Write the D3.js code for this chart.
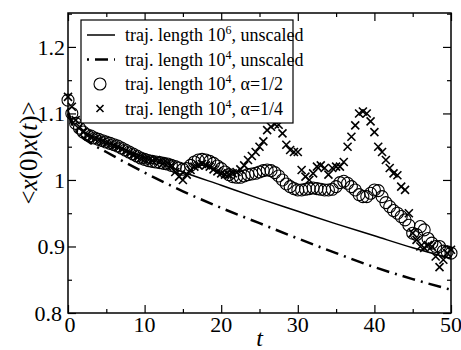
<!DOCTYPE html>
<html>
<head>
<meta charset="utf-8">
<script src="https://cdn.jsdelivr.net/npm/d3@7"></script>
<style>
  body { margin: 0; background: #fff; }
  svg { display: block; }
</style>
</head>
<body>
<div id="chart"></div>
<script>
// smooth curves (unscaled)
const lineT = [0, 0.5, 1, 2, 3, 5, 10, 15, 20, 25, 30, 35, 40, 45, 50];
const solidV = [1.105, 1.09, 1.082, 1.073, 1.067, 1.057, 1.034, 1.012, 0.992, 0.972, 0.953, 0.934, 0.916, 0.898, 0.882];
const dashV = [1.1, 1.085, 1.075, 1.063, 1.055, 1.042, 1.011, 0.983, 0.958, 0.935, 0.912, 0.89, 0.869, 0.851, 0.835];

// markers, one every 0.5 in t
const markT = d3.range(0, 50.01, 0.5);
const circV = [1.12, 1.10, 1.085, 1.078, 1.072, 1.068, 1.066, 1.063, 1.061, 1.059,
  1.057, 1.055, 1.053, 1.051, 1.048, 1.045, 1.042, 1.039, 1.036, 1.033,
  1.031, 1.029, 1.028, 1.027, 1.026, 1.025, 1.024, 1.022, 1.02, 1.018,
  1.016, 1.017, 1.022, 1.027, 1.03, 1.031, 1.03, 1.028, 1.025, 1.021,
  1.017, 1.012, 1.008, 1.005, 1.004, 1.004, 1.006, 1.008, 1.009, 1.01,
  1.012, 1.014, 1.015, 1.014, 1.011, 1.006, 1.0, 0.994, 0.99, 0.987,
  0.985, 0.985, 0.986, 0.987, 0.988, 0.987, 0.986, 0.985, 0.985, 0.986,
  0.99, 0.996, 0.998, 0.995, 0.99, 0.985, 0.978, 0.975, 0.975, 0.98,
  0.985, 0.984, 0.975, 0.966, 0.96, 0.954, 0.95, 0.945, 0.94, 0.932,
  0.92, 0.918, 0.93, 0.925, 0.912, 0.905, 0.9, 0.9, 0.893, 0.892, 0.89];
const crossV = [1.125, 1.11, 1.09, 1.08, 1.072, 1.068, 1.065, 1.062, 1.06, 1.058,
  1.056, 1.054, 1.052, 1.05, 1.047, 1.044, 1.041, 1.038, 1.035, 1.033,
  1.031, 1.03, 1.029, 1.03, 1.028, 1.026, 1.025, 1.022, 1.012, 1.005,
  1.0, 1.008, 1.015, 1.02, 1.022, 1.024, 1.022, 1.02, 1.016, 1.013,
  1.01, 1.008, 1.008, 1.01, 1.012, 1.016, 1.022, 1.03, 1.036, 1.042,
  1.05, 1.058, 1.075, 1.08, 1.084, 1.083, 1.07, 1.053, 1.045, 1.042,
  1.042, 1.015, 1.005, 1.0, 1.01, 1.02, 1.022, 1.018, 1.008, 1.018,
  1.02, 1.02, 1.027, 1.05, 1.065, 1.082, 1.1, 1.103, 1.1, 1.088,
  1.072, 1.05, 1.042, 1.03, 1.018, 1.01, 1.007, 0.99, 0.985, 0.95,
  0.92, 0.91, 0.9, 0.898, 0.902, 0.9, 0.885, 0.869, 0.88, 0.89, 0.895];

const xTicks = [0, 10, 20, 30, 40, 50];
const yTicks = [0.8, 0.9, 1, 1.1, 1.2];

const legendItems = [
  { kind: "solid", exp: "6", tail: ", unscaled" },
  { kind: "dash", exp: "4", tail: ", unscaled" },
  { kind: "circle", exp: "4", tail: ", \u03b1=1/2" },
  { kind: "cross", exp: "4", tail: ", \u03b1=1/4" }
];

const W = 461, H = 350;
const margin = { top: 13, right: 10, bottom: 37, left: 68 };
const serif = "Liberation Serif, DejaVu Serif, Noto Serif, Tinos, serif";

const svg = d3.select("#chart").append("svg")
  .attr("width", W)
  .attr("height", H)
  .style("font-family", serif);

const x = d3.scaleLinear().domain([0, 50]).range([margin.left, W - margin.right]);
const y = d3.scaleLinear().domain([0.8, 1.251]).range([H - margin.bottom, margin.top]);

const x0 = x.range()[0], x1 = x.range()[1];
const y0 = y.range()[0], y1 = y.range()[1];

// data
const lineGen = d3.line().x(d => x(d[0])).y(d => y(d[1])).curve(d3.curveMonotoneX);

svg.append("path")
  .datum(lineT.map((t, i) => [t, solidV[i]]))
  .attr("d", lineGen)
  .attr("fill", "none")
  .attr("stroke", "#000")
  .attr("stroke-width", 1.5);

svg.append("path")
  .datum(lineT.map((t, i) => [t, dashV[i]]))
  .attr("d", lineGen)
  .attr("fill", "none")
  .attr("stroke", "#000")
  .attr("stroke-width", 2.5)
  .attr("stroke-dasharray", "13,6,2,6");

svg.append("g").selectAll("circle")
  .data(markT.map((t, i) => [t, circV[i]]))
  .enter().append("circle")
  .attr("cx", d => x(d[0]))
  .attr("cy", d => y(d[1]))
  .attr("r", 6)
  .attr("fill", "none")
  .attr("stroke", "#000")
  .attr("stroke-width", 1.1);

const crossPath = (cx, cy, s) =>
  `M${cx - s},${cy - s}L${cx + s},${cy + s}M${cx - s},${cy + s}L${cx + s},${cy - s}`;

svg.append("g").selectAll("path")
  .data(markT.map((t, i) => [t, crossV[i]]))
  .enter().append("path")
  .attr("d", d => crossPath(x(d[0]), y(d[1]), 4))
  .attr("stroke", "#000")
  .attr("stroke-width", 1.6)
  .attr("fill", "none");

// axes: ticks point inward on all four sides
const tickLen = 8, minorLen = 4;

svg.append("g")
  .attr("transform", `translate(0,${y0})`)
  .call(d3.axisBottom(x).tickValues(d3.range(0, 51, 5)).tickSizeInner(0).tickSizeOuter(0).tickFormat(""))
  .call(g => g.selectAll(".tick line").attr("y2", d => d % 10 === 0 ? -tickLen : -minorLen))
  .call(g => g.select(".domain").remove());

svg.append("g")
  .attr("transform", `translate(0,${y1})`)
  .call(d3.axisTop(x).tickValues(d3.range(0, 51, 5)).tickSizeInner(0).tickSizeOuter(0).tickFormat(""))
  .call(g => g.selectAll(".tick line").attr("y2", d => d % 10 === 0 ? tickLen : minorLen))
  .call(g => g.select(".domain").remove());

const yAll = d3.range(0.8, 1.251, 0.05);
svg.append("g")
  .attr("transform", `translate(${x0},0)`)
  .call(d3.axisLeft(y).tickValues(yAll).tickSizeInner(0).tickSizeOuter(0).tickFormat(""))
  .call(g => g.selectAll(".tick line").attr("x2", (d, i) => i % 2 === 0 ? tickLen : minorLen))
  .call(g => g.select(".domain").remove());

svg.append("g")
  .attr("transform", `translate(${x1},0)`)
  .call(d3.axisRight(y).tickValues(yAll).tickSizeInner(0).tickSizeOuter(0).tickFormat(""))
  .call(g => g.selectAll(".tick line").attr("x2", (d, i) => i % 2 === 0 ? -tickLen : -minorLen))
  .call(g => g.select(".domain").remove());

svg.selectAll(".tick line").attr("stroke", "#000").attr("stroke-width", 1.2);

svg.append("rect")
  .attr("x", x0).attr("y", y1)
  .attr("width", x1 - x0).attr("height", y0 - y1)
  .attr("fill", "none")
  .attr("stroke", "#000")
  .attr("stroke-width", 1.5);

// tick labels
svg.append("g").selectAll("text")
  .data(xTicks)
  .enter().append("text")
  .attr("x", d => x(d) + (d === 0 ? 2 : 0))
  .attr("y", y0 + 19)
  .attr("text-anchor", "middle")
  .attr("font-size", 22)
  .text(d => d);

svg.append("g").selectAll("text")
  .data(yTicks)
  .enter().append("text")
  .attr("x", d => x0 - (d === 0.8 ? 6 : 3))
  .attr("y", d => y(d) + 8)
  .attr("text-anchor", "end")
  .attr("font-size", 22)
  .text(d => d === 1 ? "1" : d3.format(".1f")(d));

// axis titles
svg.append("text")
  .attr("x", x(25))
  .attr("y", H - 4)
  .attr("text-anchor", "middle")
  .attr("font-size", 24)
  .attr("font-style", "italic")
  .text("t");

const yTitle = svg.append("text")
  .attr("transform", `translate(37,153) rotate(-90)`)
  .attr("text-anchor", "middle")
  .attr("font-size", 25);
yTitle.append("tspan").text("<");
yTitle.append("tspan").attr("font-style", "italic").text("x");
yTitle.append("tspan").text("(0)");
yTitle.append("tspan").attr("font-style", "italic").text("x");
yTitle.append("tspan").text("(");
yTitle.append("tspan").attr("font-style", "italic").text("t");
yTitle.append("tspan").text(")>");

// legend
const lg = svg.append("g");
lg.append("rect")
  .attr("x", 81).attr("y", 20)
  .attr("width", 212).attr("height", 103)
  .attr("fill", "#fff")
  .attr("stroke", "#000")
  .attr("stroke-width", 1.2);

legendItems.forEach((d, i) => {
  const cy = 35 + i * 24.5;
  if (d.kind === "solid") {
    lg.append("line").attr("x1", 87).attr("x2", 115).attr("y1", cy).attr("y2", cy)
      .attr("stroke", "#000").attr("stroke-width", 1.5);
  } else if (d.kind === "dash") {
    lg.append("line").attr("x1", 87).attr("x2", 115).attr("y1", cy).attr("y2", cy)
      .attr("stroke", "#000").attr("stroke-width", 2.5).attr("stroke-dasharray", "2,6,13,6");
  } else if (d.kind === "circle") {
    lg.append("circle").attr("cx", 100).attr("cy", cy).attr("r", 6)
      .attr("fill", "none").attr("stroke", "#000").attr("stroke-width", 1.1);
  } else {
    lg.append("path").attr("d", crossPath(100, cy, 3.5))
      .attr("stroke", "#000").attr("stroke-width", 1.6);
  }
  const t = lg.append("text")
    .attr("x", 125).attr("y", cy + 6)
    .attr("font-size", 18);
  t.append("tspan").text("traj. length 10");
  t.append("tspan").attr("dy", -7).attr("font-size", 12).text(d.exp);
  t.append("tspan").attr("dy", 7).text(d.tail);
});
</script>
</body>
</html>
